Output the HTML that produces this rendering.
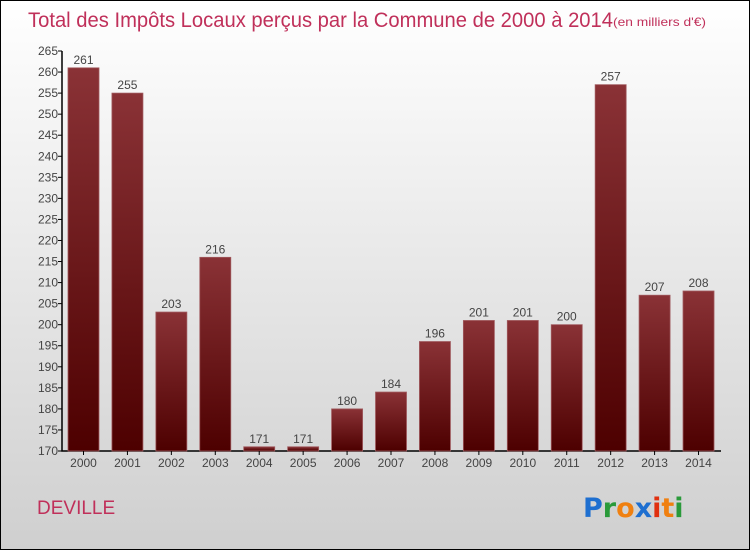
<!DOCTYPE html>
<html><head><meta charset="utf-8"><style>
body{margin:0;}
#wrap{position:relative;width:748px;height:548px;border:1px solid #000;background:linear-gradient(#ffffff,#cfcfcf);font-family:"Liberation Sans",sans-serif;overflow:hidden;}
</style></head><body>
<div id="wrap">
<svg id="svg" width="748" height="548" xmlns="http://www.w3.org/2000/svg">
<defs><linearGradient id="bg" x1="0" y1="0" x2="0" y2="1"><stop offset="0" stop-color="#8a3236"/><stop offset="1" stop-color="#4d0000"/></linearGradient></defs>
<text x="27" y="26" font-size="21" fill="#c0305a" textLength="585" lengthAdjust="spacingAndGlyphs">Total des Impôts Locaux perçus par la Commune de 2000 à 2014</text>
<text x="612" y="25" font-size="12" fill="#c0305a" textLength="93" lengthAdjust="spacingAndGlyphs">(en milliers d'€)</text>
<text x="36" y="513" font-size="19" fill="#c0305a">DEVILLE</text>
<g font-size="27" font-weight="bold" font-family="'DejaVu Sans',sans-serif">
<text x="582" y="516"><tspan fill="#1e6fd0">P</tspan><tspan fill="#2a9a3a">r</tspan><tspan fill="#f08010">o</tspan><tspan fill="#1e6fd0">x</tspan><tspan fill="#e03010">i</tspan><tspan fill="#f08010">t</tspan><tspan fill="#2a9a3a">i</tspan></text></g>
<g id="plot"></g>
</svg></div>
<script>
const years=["2000","2001","2002","2003","2004","2005","2006","2007","2008","2009","2010","2011","2012","2013","2014"];
const values=[261,255,203,216,171,171,180,184,196,201,201,200,257,207,208];
const ticks=[170,175,180,185,190,195,200,205,210,215,220,225,230,235,240,245,250,255,260,265];
const NS="http://www.w3.org/2000/svg";
const g=document.getElementById('plot');
const y0=450,y1=50,vmin=170,vmax=265,x0=61;
const y=v=>y0-(v-vmin)/(vmax-vmin)*(y0-y1);
const x=i=>82.5+i*43.93;
function mk(t,a){const e=document.createElementNS(NS,t);for(const k in a)e.setAttribute(k,a[k]);g.appendChild(e);return e;}
const ax=mk('path',{d:`M${x0},${y1}V${y0}H720`,stroke:'#000',fill:'none','stroke-width':1.5});


ticks.forEach(t=>{
 const l=mk('line',{x1:x0-4,x2:x0,y1:y(t),y2:y(t),stroke:'#000'});
 
 
 const tx=mk('text',{x:x0-4,y:y(t)+4,'text-anchor':'end','font-size':12,fill:'#444'});
 tx.textContent=t;
 
 
});
years.forEach((yr,i)=>{
 const cx=x(i),v=values[i];
 const r=mk('rect',{x:cx-15.5,y:y(v),width:31,height:y0-y(v),fill:'url(#bg)',stroke:'#a05a5e','stroke-width':0.8});
 
 
 const t=mk('text',{x:cx,y:y(v)-4,'text-anchor':'middle','font-size':12,fill:'#444'});
 t.textContent=v;
 
 
 const tk=mk('line',{x1:cx,x2:cx,y1:y0,y2:y0+4,stroke:'#000'});
 
 
 const xl=mk('text',{x:cx,y:y0+16,'text-anchor':'middle','font-size':12,fill:'#444'});
 xl.textContent=yr;
 
 
});
</script>
</body></html>
